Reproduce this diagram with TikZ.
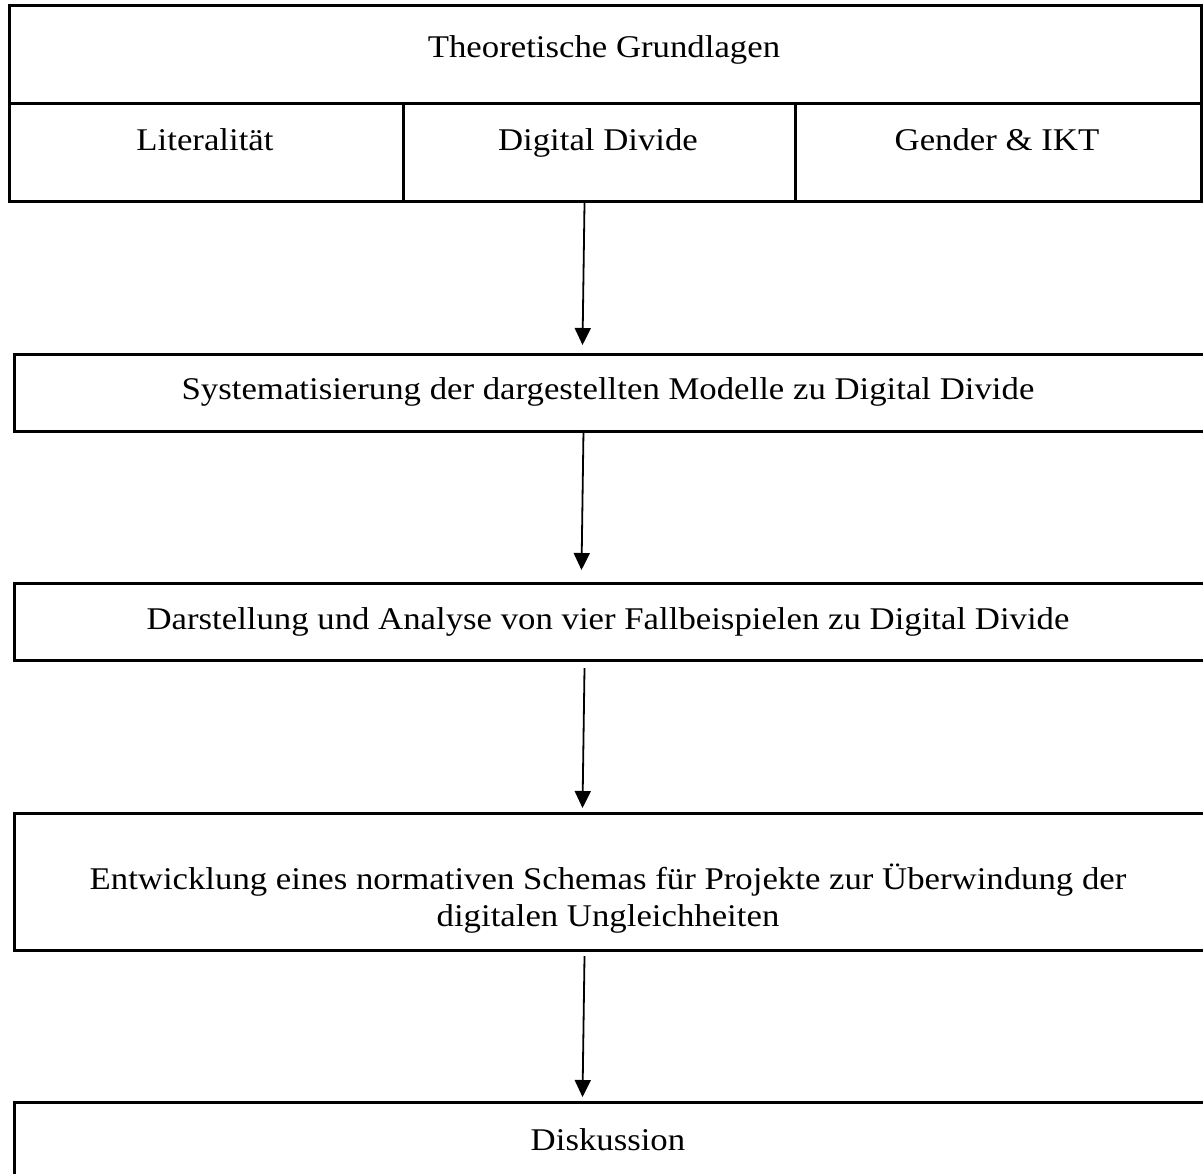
\documentclass[tikz,border=0pt]{standalone}
\usepackage{fontspec}
\setmainfont[FakeStretch = 1.1]{Liberation Serif}
\usetikzlibrary{arrows.meta}
\tikzset{
  box/.style = {draw, line width = 1.5pt, inner sep = 0pt, anchor = north west},
  txt/.style = {font = \fontsize{15.8}{18}\selectfont, anchor = base, inner sep = 0pt},
  flow/.style = {-{Triangle[width = 8pt, length = 8.5pt]}, line width = 0.9pt}
}
\begin{document}
\begin{tikzpicture}[x = 0.5pt, y = -0.5pt]
    \useasboundingbox (0,0) rectangle (1203,1173);
    \clip (0,0) rectangle (1203,1173);

    % Theory table
    \node [box, minimum width = 596pt, minimum height = 49pt] (theo) at (8,4) {};
    \node [box, minimum width = 197pt, minimum height = 49pt] (lit) at (8,102) {};
    \node [box, minimum width = 196pt, minimum height = 49pt] (dd) at (402,102) {};
    \node [box, minimum width = 203pt, minimum height = 49pt] (gen) at (794,102) {};

    \node [txt] (theotxt) at (604,57) {Theoretische Grundlagen};
    \node [txt] (littxt) at (205,150) {Literalität};
    \node [txt] (ddtxt) at (598,150) {Digital Divide};
    \node [txt] (gentxt) at (997,150) {Gender \& IKT};

    % Steps
    \node [box, minimum width = 596pt, minimum height = 38.5pt] (sys) at (13,353) {};
    \node [box, minimum width = 596pt, minimum height = 38.5pt] (fall) at (13,582) {};
    \node [box, minimum width = 596pt, minimum height = 68.5pt] (schema) at (13,812) {};
    \node [box, minimum width = 596pt, minimum height = 50pt] (disk) at (13,1101) {};

    \node [txt] (systxt) at (608,399) {Systematisierung der dargestellten Modelle zu Digital Divide};
    \node [txt] (falltxt) at (608,629) {Darstellung und Analyse von vier Fallbeispielen zu Digital Divide};
    \node [txt] (schematxt) at (608,889) {Entwicklung eines normativen Schemas für Projekte zur Überwindung der};
    \node [txt] (schematxtb) at (608,926) {digitalen Ungleichheiten};
    \node [txt] (disktxt) at (608,1150) {Diskussion};

    % Arrows
    \draw [flow] ([xshift = -7.5pt]dd.south) -- ([xshift = -14pt, yshift = 4pt]sys.north);
    \draw [flow] ([xshift = -13.5pt, yshift = 1.5pt]sys.south) -- ([xshift = -14.5pt, yshift = 6pt]fall.north);
    \draw [flow] ([xshift = -13pt, yshift = -3pt]fall.south) -- ([xshift = -14pt, yshift = 2pt]schema.north);
    \draw [flow] ([xshift = -13pt, yshift = -2pt]schema.south) -- ([xshift = -14pt, yshift = 2pt]disk.north);

\end{tikzpicture}
\end{document}
